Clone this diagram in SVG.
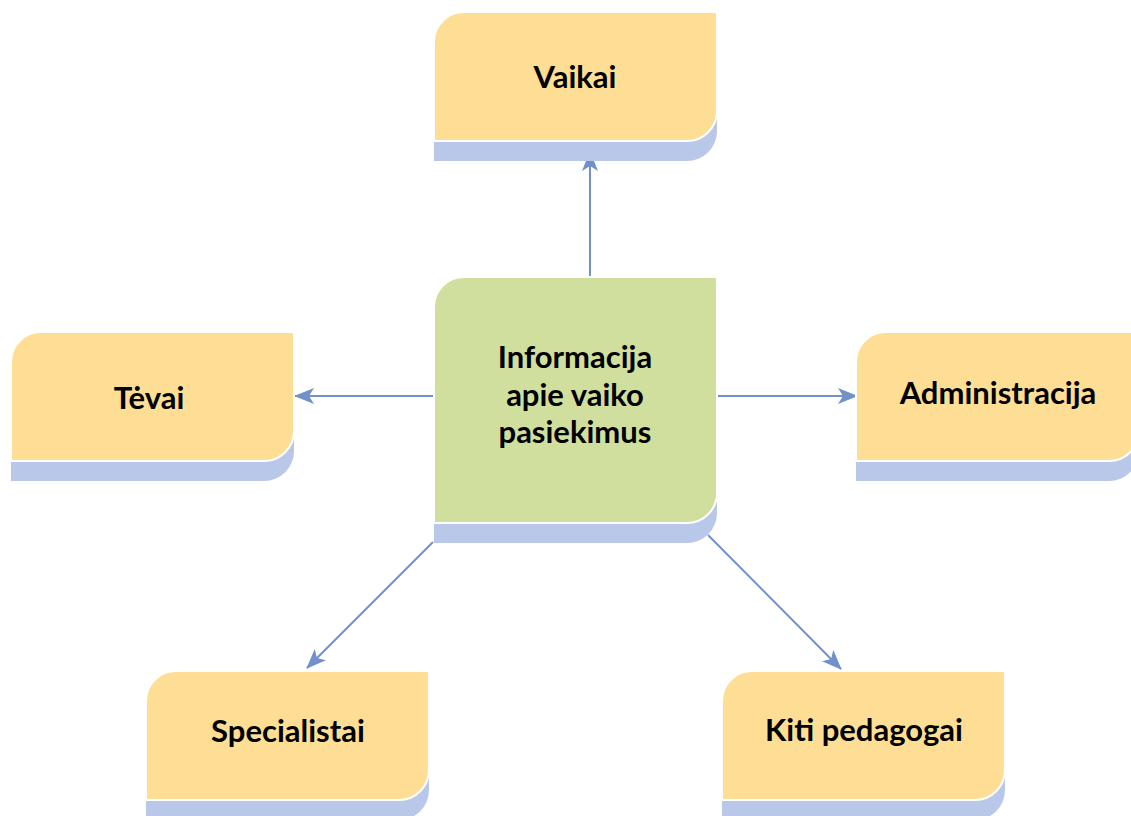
<svg xmlns="http://www.w3.org/2000/svg" width="1131" height="816" viewBox="0 0 1131 816">
<style>
.sh{fill:#B9C8E8;}
.y{fill:#FEDE95;stroke:#FFFFFF;stroke-width:2;}
.g{fill:#D0DF9D;stroke:#FFFFFF;stroke-width:2;}
.t{font-family:Lato,"Open Sans","Liberation Sans",sans-serif;font-weight:bold;font-size:31px;fill:#000000;text-anchor:middle;}
.c{stroke:#7290CA;stroke-width:2;fill:none;marker-end:url(#ah2);}
</style>
<defs>
<marker id="ah2" viewBox="0 0 20 16" refX="19" refY="8" markerWidth="20" markerHeight="16" markerUnits="userSpaceOnUse" orient="auto">
<path d="M0,0 L20,8 L0,16 L5,8 Z" fill="#7290CA"/>
</marker>
</defs>
<rect width="1131" height="816" fill="#FFFFFF"/>
<g id="connectors">
<line class="c" x1="590" y1="277" x2="590" y2="152"/>
<line class="c" x1="433" y1="396" x2="295" y2="396"/>
<line class="c" x1="717" y1="396" x2="857" y2="396"/>
<line class="c" x1="433" y1="542" x2="307" y2="668"/>
<line class="c" x1="708" y1="535" x2="841" y2="669"/>
</g>
<g id="vaikai">
<path class="sh" d="M434,62 A30,30 0 0 1 464,32 H717 V131 A30,30 0 0 1 687,161 H434 Z"/>
<path class="y" d="M434,42 A30,30 0 0 1 464,12 H717 V111 A30,30 0 0 1 687,141 H434 Z"/>
<text class="t" x="575" y="88">Vaikai</text>
</g>
<g id="informacija">
<path class="sh" d="M434,327 A30,30 0 0 1 464,297 H717 V513 A30,30 0 0 1 687,543 H434 Z"/>
<path class="g" d="M434,307 A30,30 0 0 1 464,277 H717 V493 A30,30 0 0 1 687,523 H434 Z"/>
<text class="t" x="575" y="368">Informacija</text>
<text class="t" x="575" y="406">apie vaiko</text>
<text class="t" x="575" y="443">pasiekimus</text>
</g>
<g id="tevai">
<path class="sh" d="M11,382 A30,30 0 0 1 41,352 H294 V451 A30,30 0 0 1 264,481 H11 Z"/>
<path class="y" d="M11,362 A30,30 0 0 1 41,332 H294 V431 A30,30 0 0 1 264,461 H11 Z"/>
<text class="t" x="149" y="409">Tėvai</text>
</g>
<g id="administracija">
<path class="sh" d="M856,382 A30,30 0 0 1 886,352 H1139 V451 A30,30 0 0 1 1109,481 H856 Z"/>
<path class="y" d="M856,362 A30,30 0 0 1 886,332 H1139 V431 A30,30 0 0 1 1109,461 H856 Z"/>
<text class="t" x="998" y="404">Administracija</text>
</g>
<g id="specialistai">
<path class="sh" d="M146,721 A30,30 0 0 1 176,691 H429 V790 A30,30 0 0 1 399,820 H146 Z"/>
<path class="y" d="M146,701 A30,30 0 0 1 176,671 H429 V770 A30,30 0 0 1 399,800 H146 Z"/>
<text class="t" x="288" y="742">Specialistai</text>
</g>
<g id="kiti">
<path class="sh" d="M722,721 A30,30 0 0 1 752,691 H1005 V790 A30,30 0 0 1 975,820 H722 Z"/>
<path class="y" d="M722,701 A30,30 0 0 1 752,671 H1005 V770 A30,30 0 0 1 975,800 H722 Z"/>
<text class="t" x="864" y="741">Kiti pedagogai</text>
</g>
</svg>
